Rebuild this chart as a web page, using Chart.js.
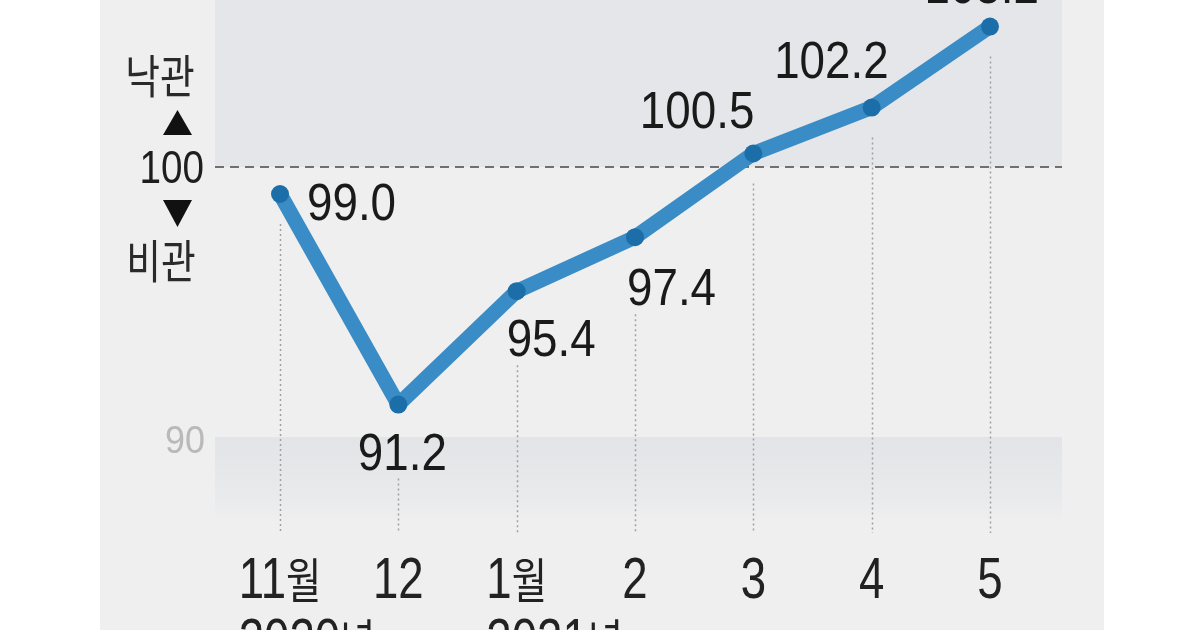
<!DOCTYPE html>
<html>
<head>
<meta charset="utf-8">
<script src="https://cdn.jsdelivr.net/npm/chart.js@4.4.1/dist/chart.umd.min.js"></script>
<style>
html,body{margin:0;padding:0;background:#ffffff;}
#wrap{width:1200px;height:630px;position:relative;}
</style>
</head>
<body>
<div id="wrap"><canvas id="c"></canvas></div>
<script>
// ---- data ----
const categories = ['11월', '12', '1월', '2', '3', '4', '5'];
const yearLabels = ['2020년', '', '2021년', '', '', '', ''];
const values = [99.0, 91.2, 95.4, 97.4, 100.5, 102.2, 105.2];
const yTicks = [90, 100];
const sideLabels = ['낙관', '비관'];

// ---- styles / placement ----
const LAT = '"Liberation Sans", Arial, sans-serif';
const KR = '"Noto Sans CJK KR", sans-serif';
const labelPlace = [
  {align: 'left', dx: 27, dy: 26},
  {align: 'center', dx: 4, dy: 65},
  {align: 'left', dx: -10, dy: 65},
  {align: 'left', dx: -8, dy: 68},
  {align: 'right', dx: 1, dy: -26},
  {align: 'right', dx: 17, dy: -30},
  {align: 'right', dx: 49, dy: -24}
];

function drawRuns(ctx, text, x, y, o) {
  const runs = text.match(/[\u3131-\uD79D]+|[^\u3131-\uD79D]+/g) || [];
  const parts = runs.map(r => {
    const kr = /[\u3131-\uD79D]/.test(r);
    const font = kr ? (o.krSize + 'px ' + KR) : (o.latSize + 'px ' + LAT);
    ctx.font = font;
    return {r, font, w: ctx.measureText(r).width};
  });
  const total = parts.reduce((s, p) => s + p.w, 0) * o.sx;
  let sx0 = x;
  if (o.align === 'center') sx0 = x - total / 2;
  else if (o.align === 'right') sx0 = x - total;
  ctx.save();
  ctx.fillStyle = o.color;
  ctx.textAlign = 'left';
  ctx.textBaseline = 'alphabetic';
  ctx.translate(sx0, y);
  ctx.scale(o.sx, 1);
  let cx = 0;
  parts.forEach(p => { ctx.font = p.font; ctx.fillText(p.r, cx, 0); cx += p.w; });
  ctx.restore();
  return {left: sx0, right: sx0 + total};
}

let labelBoxes = [];

const deco = {
  id: 'deco',
  beforeDraw(chart) {
    const ctx = chart.ctx;
    const y = chart.scales.y;
    const y100 = y.getPixelForValue(100), y90 = y.getPixelForValue(90);
    ctx.save();
    ctx.fillStyle = '#ffffff';
    ctx.fillRect(0, 0, 1200, 630);
    ctx.fillStyle = '#efefef';
    ctx.fillRect(100, 0, 1004, 630);
    ctx.fillStyle = '#e5e6e9';
    ctx.fillRect(215, 0, 847, y100);
    const g = ctx.createLinearGradient(0, y90, 0, y90 + 85);
    g.addColorStop(0, '#e3e4e7');
    g.addColorStop(0.7, '#e9eaec');
    g.addColorStop(1, '#efefef');
    ctx.fillStyle = g;
    ctx.fillRect(215, y90, 847, 85);
    ctx.restore();
  },
  beforeDatasetsDraw(chart) {
    const ctx = chart.ctx;
    const y = chart.scales.y;
    const meta = chart.getDatasetMeta(0);
    const y100 = y.getPixelForValue(100);
    // label boxes
    labelBoxes = values.map((v, i) => {
      const p = meta.data[i];
      const lp = labelPlace[i];
      ctx.font = '52px ' + LAT;
      const w = ctx.measureText(v.toFixed(1)).width * 0.88;
      const lx = p.x + lp.dx;
      let left = lx;
      if (lp.align === 'center') left = lx - w / 2;
      else if (lp.align === 'right') left = lx - w;
      const by = p.y + lp.dy;
      return {left, right: left + w, top: by - 38, bottom: by};
    });
    // dotted verticals
    ctx.save();
    ctx.strokeStyle = '#a0a0a0';
    ctx.lineWidth = 1.5;
    ctx.setLineDash([2, 3]);
    meta.data.forEach((p, i) => {
      const b = labelBoxes[i];
      let start = p.y + 30;
      if (b.left <= p.x && b.right >= p.x && b.top > p.y) start = b.bottom + 9;
      ctx.beginPath();
      ctx.moveTo(Math.round(p.x) + 0.5, start);
      ctx.lineTo(Math.round(p.x) + 0.5, 533);
      ctx.stroke();
    });
    // dashed 100 line
    ctx.strokeStyle = '#707070';
    ctx.lineWidth = 2;
    ctx.setLineDash([9, 6]);
    ctx.beginPath();
    ctx.moveTo(215, y100);
    ctx.lineTo(1062, y100);
    ctx.stroke();
    ctx.restore();
  },
  afterDatasetsDraw(chart) {
    const ctx = chart.ctx;
    const x = chart.scales.x;
    const y = chart.scales.y;
    const meta = chart.getDatasetMeta(0);
    // value labels
    values.forEach((v, i) => {
      const p = meta.data[i];
      const lp = labelPlace[i];
      drawRuns(ctx, v.toFixed(1), p.x + lp.dx, p.y + lp.dy,
        {latSize: 52, krSize: 44, sx: 0.88, align: lp.align, color: '#1a1a1a'});
    });
    // category labels and year labels
    categories.forEach((c, i) => {
      const px = x.getPixelForValue(i);
      const box = drawRuns(ctx, c, px, 598,
        {latSize: 57, krSize: 48, sx: 0.8, align: 'center', color: '#222222'});
      if (yearLabels[i]) {
        drawRuns(ctx, yearLabels[i], box.left, 659,
          {latSize: 57, krSize: 48, sx: 0.8, align: 'left', color: '#222222'});
      }
    });
    // y tick labels
    yTicks.forEach(t => {
      const py = y.getPixelForValue(t);
      if (t === 100) {
        drawRuns(ctx, String(t), 204, py + 16,
          {latSize: 46, krSize: 40, sx: 0.84, align: 'right', color: '#1e1e1e'});
      } else {
        drawRuns(ctx, String(t), 205, py + 16,
          {latSize: 39, krSize: 34, sx: 0.92, align: 'right', color: '#b9b9b9'});
      }
    });
    // side labels and arrows
    const y100 = y.getPixelForValue(100);
    drawRuns(ctx, sideLabels[0], 160, y100 - 74,
      {latSize: 46, krSize: 46, sx: 0.82, align: 'center', color: '#2a2a2a'});
    drawRuns(ctx, sideLabels[1], 161, y100 + 111,
      {latSize: 46, krSize: 46, sx: 0.82, align: 'center', color: '#2a2a2a'});
    ctx.save();
    ctx.fillStyle = '#111111';
    ctx.beginPath();
    ctx.moveTo(163, y100 - 32); ctx.lineTo(192, y100 - 32); ctx.lineTo(177.5, y100 - 57);
    ctx.closePath(); ctx.fill();
    ctx.beginPath();
    ctx.moveTo(163, y100 + 33); ctx.lineTo(192, y100 + 33); ctx.lineTo(177.5, y100 + 60);
    ctx.closePath(); ctx.fill();
    ctx.restore();
  }
};

new Chart(document.getElementById('c'), {
  type: 'line',
  data: {
    labels: categories,
    datasets: [{
      data: values,
      borderColor: '#3a8cc6',
      borderWidth: 15,
      borderCapStyle: 'round',
      borderJoinStyle: 'round',
      tension: 0,
      pointRadius: 9,
      pointBackgroundColor: '#1c6ea8',
      pointBorderWidth: 0,
      pointHoverRadius: 9,
      clip: false
    }]
  },
  options: {
    responsive: true,
    maintainAspectRatio: false,
    animation: false,
    devicePixelRatio: 1,
    layout: {padding: {left: 280, right: 210, top: 10, bottom: 100}},
    plugins: {legend: {display: false}, tooltip: {enabled: false}},
    events: [],
    scales: {
      x: {type: 'category', display: false, offset: false},
      y: {display: false, min: 100 - (530 - 167) / 27, max: 100 + (167 - 10) / 27}
    }
  },
  plugins: [deco]
});
</script>
</body>
</html>
